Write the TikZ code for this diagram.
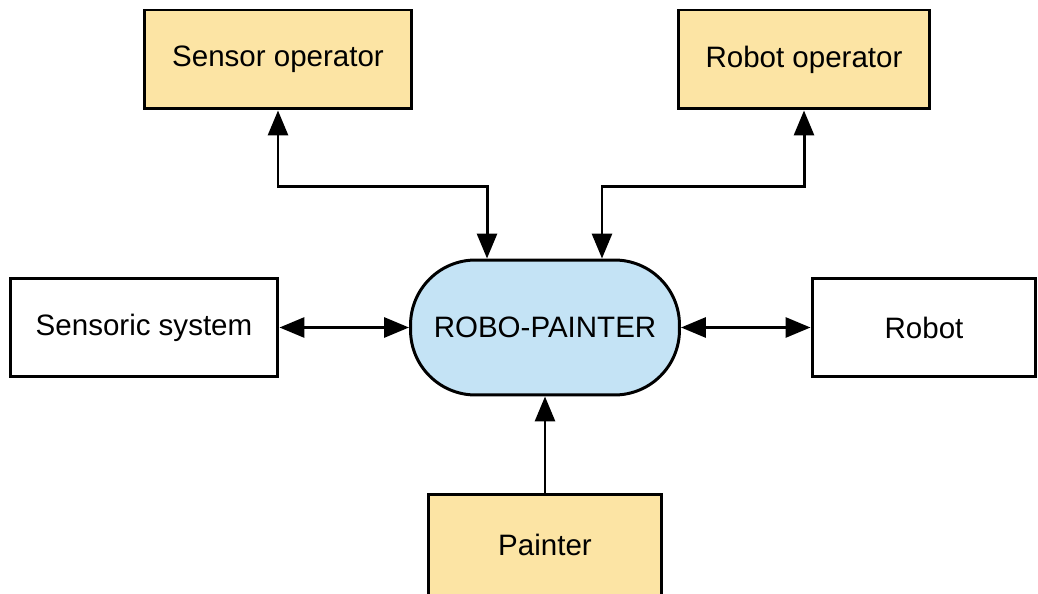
\documentclass[tikz,border=0pt]{standalone}
\usepackage{fontspec}
\setmainfont{Liberation Sans}
\usepackage{tikz}
\usetikzlibrary{positioning,arrows.meta,calc}
\definecolor{actorYellow}{HTML}{FCE4A4}
\definecolor{coreBlue}{HTML}{C4E3F5}

\begin{document}
\begin{tikzpicture}[x=0.02cm, y=-0.02cm,
  every node/.style={font=\fontsize{16.8}{19}\selectfont, inner sep=0pt},
  box/.style={draw, line width=1.7pt, minimum width=5.36cm, minimum height=1.98cm},
  actor/.style={box, fill=actorYellow},
  core/.style={draw, line width=1.7pt, fill=coreBlue, rounded corners=1.3cm,
    minimum width=5.38cm, minimum height=2.7cm},
  conn/.style={line width=1.7pt, -{Triangle[length=0.5cm,width=0.4cm]}},
  biconn/.style={line width=1.7pt, {Triangle[length=0.5cm,width=0.4cm]}-{Triangle[length=0.5cm,width=0.4cm]}}]
  \useasboundingbox (0,0) rectangle (1038,594);

  % Core
  \node[core] (rp) at (545,327.5) {ROBO-PAINTER};

  % Operators
  \node[actor] (sop) at (278,59.5) {Sensor operator};
  \node[actor, minimum width=5.04cm] (rop) at (804,59.5) {Robot operator};

  % Side systems
  \node[box] (sys) at (144,327.5) {Sensoric system};
  \node[box, minimum width=4.48cm] (rob) at (924,327.5) {Robot};

  % Painter
  \node[actor, minimum width=4.68cm, minimum height=2.04cm, text depth=0pt] (pnt) at (545,545) {Painter};

  % Connectors
  \draw[biconn] (sop.south) -- ++(0,76) -| ([xshift=-1.16cm]rp.north);
  \draw[biconn] (rop.south) -- ++(0,76) -| ([xshift=1.14cm]rp.north);
  \draw[biconn] (sys.east) -- (rp.west);
  \draw[biconn] (rp.east) -- (rob.west);
  \draw[conn] (pnt.north) -- (rp.south);
\end{tikzpicture}
\end{document}
